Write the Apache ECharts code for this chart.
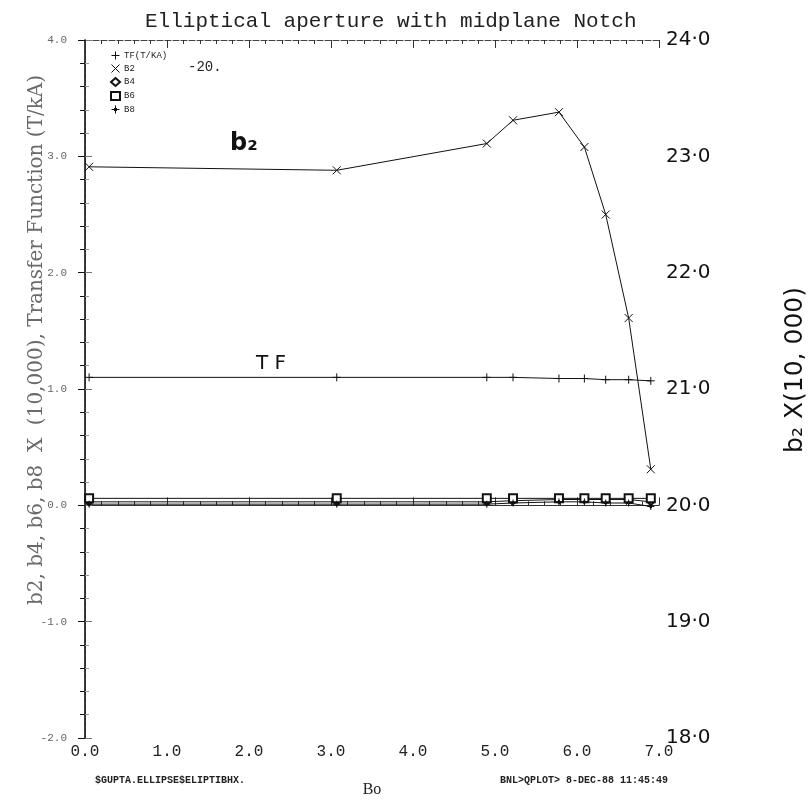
<!DOCTYPE html>
<html><head><meta charset="utf-8">
<script src="https://cdn.jsdelivr.net/npm/echarts@6/dist/echarts.min.js"></script>
<style>html,body{margin:0;padding:0;background:#fff}#c{width:812px;height:803px}</style>
</head><body><div id="c"></div>
<script>
// Data
const bo = [0.05, 3.07, 4.9, 5.22, 5.78, 6.09, 6.35, 6.63, 6.9];
const tf = [1.10, 1.10, 1.10, 1.10, 1.09, 1.09, 1.08, 1.08, 1.07];
const b2 = [2.91, 2.88, 3.11, 3.31, 3.38, 3.08, 2.50, 1.61, 0.31]; // b2 - 20
const b4 = [0.03, 0.03, 0.03, 0.04, 0.05, 0.05, 0.05, 0.05, 0.03];
const b6 = [0.06, 0.06, 0.06, 0.06, 0.06, 0.06, 0.06, 0.06, 0.06];
const b8 = [0.01, 0.01, 0.01, 0.02, 0.03, 0.03, 0.02, 0.02, -0.01];
const leftTicks = ['-2.0', '-1.0', '0.0', '1.0', '2.0', '3.0', '4.0'];
const rightTicks = ['18·0', '19·0', '20·0', '21·0', '22·0', '23·0', '24·0'];
const xTicks = ['0.0', '1.0', '2.0', '3.0', '4.0', '5.0', '6.0', '7.0'];
const names = ['TF(T/KA)', 'B2', 'B4', 'B6', 'B8'];

const PLUS = 'path://M5,0L5,10M0,5L10,5';
const CROSS = 'path://M0,0L10,10M10,0L0,10';
const STAR = 'path://M5,0L5,10M0,5L10,5M5,2.5L7.5,5L5,7.5L2.5,5Z';
const pairs = arr => bo.map((x, i) => [x, arr[i]]);

const chart = echarts.init(document.getElementById('c'));
const mk = (name, arr, symbol, size) => ({
  name, type: 'line', data: pairs(arr), symbol, symbolSize: size,
  lineStyle: { color: '#111', width: 1 },
  itemStyle: { color: '#111', borderColor: '#111', borderWidth: 1 },
  emphasis: { disabled: true }, animation: false
});
chart.setOption({
  animation: false,
  title: {
    text: 'Elliptical aperture with midplane Notch', left: 140, top: 6,
    textStyle: { fontFamily: 'Liberation Mono', fontWeight: 'normal', fontSize: 21, color: '#222' }
  },
  grid: { left: 85, right: 153, top: 40, bottom: 59 },
  legend: {
    orient: 'vertical', left: 105, top: 46, itemGap: 4, itemWidth: 9, itemHeight: 8,
    textStyle: { fontFamily: 'Liberation Mono', fontSize: 9, color: '#222', padding: [0, 0, 0, -1] },
    data: [
      { name: names[0], icon: PLUS }, { name: names[1], icon: CROSS },
      { name: names[2], icon: 'emptyDiamond' }, { name: names[3], icon: 'emptyRect' },
      { name: names[4], icon: STAR }
    ],
    itemStyle: { color: '#111', borderColor: '#111', borderWidth: 1 },
    lineStyle: { width: 0 }, selectedMode: false
  },
  xAxis: [{
    type: 'value', min: 0, max: 7, interval: 1, position: 'bottom',
    name: 'Bo', nameLocation: 'middle', nameGap: 44,
    nameTextStyle: { fontFamily: 'Liberation Serif', fontSize: 16, color: '#222' },
    axisLine: { lineStyle: { color: '#333', width: 1 } },
    axisTick: { inside: true, length: 8, lineStyle: { color: '#333' } },
    minorTick: { show: true, splitNumber: 5, length: 4, lineStyle: { color: '#333' } },
    splitLine: { show: false },
    axisLabel: { margin: 6, fontFamily: 'Liberation Mono', fontSize: 16, color: '#222',
      formatter: (v) => xTicks[Math.round(v)] }
  }, {
    type: 'value', min: 0, max: 7, interval: 1, position: 'top',
    axisLine: { lineStyle: { color: '#444', width: 1.2, type: [6, 2] } },
    axisTick: { inside: true, length: 8, lineStyle: { color: '#333' } },
    minorTick: { show: true, splitNumber: 5, length: 4, lineStyle: { color: '#333' } },
    splitLine: { show: false }, axisLabel: { show: false }
  }],
  yAxis: [{
    type: 'value', min: -2, max: 4, interval: 1, position: 'left',
    axisLine: { lineStyle: { color: '#888', width: 1, type: [4, 2] } },
    axisTick: { inside: true, length: 7, lineStyle: { color: '#777' } },
    minorTick: { show: true, splitNumber: 5, length: 4, lineStyle: { color: '#999' } },
    splitLine: { show: false },
    axisLabel: { margin: 18, fontFamily: 'Liberation Mono', fontSize: 11, color: '#666',
      formatter: (v) => leftTicks[Math.round(v) + 2] }
  }, {
    type: 'value', min: 18, max: 24, interval: 1, position: 'right',
    axisLine: { show: true, lineStyle: { color: '#111', width: 1.6 } },
    axisTick: { inside: true, length: 7, lineStyle: { color: '#111' } },
    minorTick: { show: true, splitNumber: 5, length: 5, lineStyle: { color: '#111' } },
    splitLine: { show: false },
    axisLabel: { margin: 7, fontFamily: 'DejaVu Sans', fontSize: 20, color: '#111',
      formatter: (v) => rightTicks[Math.round(v) - 18] }
  }],
  series: [
    mk(names[0], tf, PLUS, 8),
    mk(names[1], b2, CROSS, 8),
    mk(names[2], b4, 'emptyDiamond', 7),
    mk(names[3], b6, 'emptyRect', 8),
    mk(names[4], b8, STAR, 7)
  ],
  graphic: [
    { type: 'text', x: 37, y: 340, rotation: Math.PI / 2,
      style: { text: 'b2, b4, b6, b8  X  (10,000), Transfer Function (T/kA)', font: '20px "DejaVu Serif"', fill: '#6a6a6a', align: 'center', verticalAlign: 'middle' } },
    { type: 'text', left: 188, top: 60, style: { text: '-20.', font: '14px "Liberation Mono"', fill: '#222' } },
    { type: 'text', left: 230, top: 132, style: { text: 'b₂', font: 'bold 24px "DejaVu Sans"', fill: '#111' } },
    { type: 'text', left: 256, top: 354, style: { text: 'T F', font: '20px "DejaVu Sans"', fill: '#111' } },
    { type: 'text', left: 95, top: 775, style: { text: '$GUPTA.ELLIPSE$ELIPTIBHX.', font: 'bold 10px "Liberation Mono"', fill: '#222' } },
    { type: 'text', left: 500, top: 775, style: { text: 'BNL>QPLOT> 8-DEC-88 11:45:49', font: 'bold 10px "Liberation Mono"', fill: '#222' } },
    { type: 'text', x: 795, y: 370, rotation: Math.PI / 2,
      style: { text: 'b₂ X(10, 000)', font: '25px "DejaVu Sans"', fill: '#111', align: 'center', verticalAlign: 'middle' } }
  ]
});
</script></body></html>
